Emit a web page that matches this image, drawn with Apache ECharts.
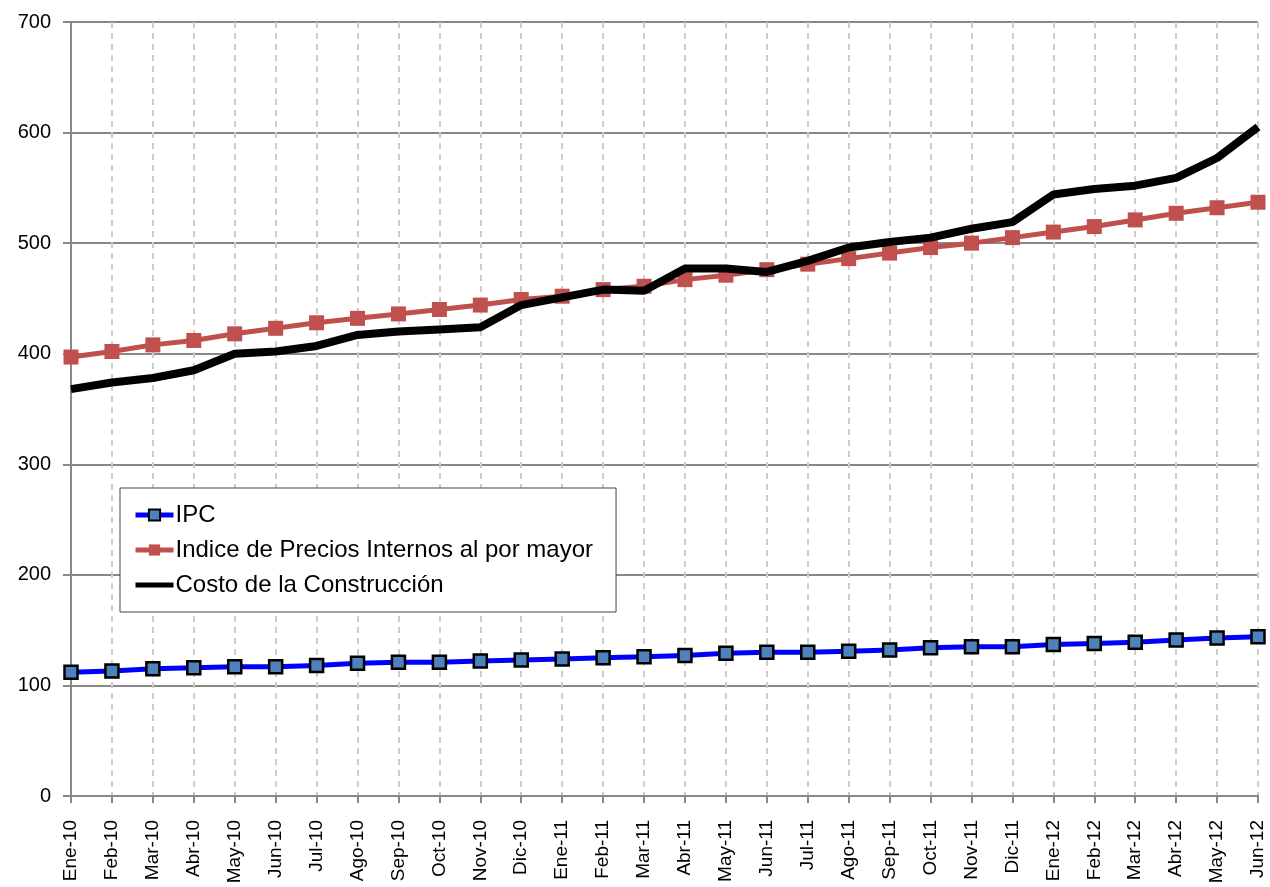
<!DOCTYPE html>
<html>
<head>
<meta charset="utf-8">
<script src="https://cdn.jsdelivr.net/npm/echarts@6/dist/echarts.min.js"></script>
<style>
  html, body { margin: 0; padding: 0; background: #fff; }
  #chart { width: 1270px; height: 887px; }
</style>
</head>
<body>
<div id="chart"></div>
<script>
// meses
var months = ['Ene-10','Feb-10','Mar-10','Abr-10','May-10','Jun-10','Jul-10','Ago-10','Sep-10','Oct-10','Nov-10','Dic-10',
              'Ene-11','Feb-11','Mar-11','Abr-11','May-11','Jun-11','Jul-11','Ago-11','Sep-11','Oct-11','Nov-11','Dic-11',
              'Ene-12','Feb-12','Mar-12','Abr-12','May-12','Jun-12'];

var ipc = [112,113,115,116,117,117,118,120,121,121,122,123,124,125,126,127,129,130,130,131,132,134,135,135,137,138,139,141,143,144];

var precios = [397,402,408,412,418,423,428,432,436,440,444,449,452,458,461,467,471,476,481,486,491,496,500,505,510,515,521,527,532,537];

var costo = [368,374,378,385,400,402,407,417,420,422,424,444,451,458,457,477,477,474,484,496,501,505,513,519,544,549,552,559,577,605];

var font = 'Liberation Sans, Arial, sans-serif';

var myChart = echarts.init(document.getElementById('chart'));

myChart.setOption({
    animation: false,
    grid: { left: 71, right: 12, top: 22, bottom: 91 },
    legend: {
        orient: 'vertical',
        left: 120,
        top: 488,
        padding: [15, 23, 15, 13],
        itemGap: 11,
        itemWidth: 38,
        itemHeight: 14,
        backgroundColor: '#fff',
        borderColor: '#444',
        borderWidth: 1,
        textStyle: { fontFamily: font, fontSize: 24, color: '#000', padding: [0, 0, 0, -3] },
        data: [
            { name: 'IPC', lineStyle: { width: 5 } },
            { name: 'Indice de Precios Internos al por mayor', lineStyle: { width: 5 } },
            { name: 'Costo de la Construcción', lineStyle: { width: 5 }, itemStyle: { opacity: 0 } }
        ]
    },
    xAxis: {
        type: 'category',
        data: months,
        boundaryGap: false,
        axisLine: { lineStyle: { color: '#888', width: 2 } },
        axisTick: { show: true, length: 7, lineStyle: { color: '#888', width: 2 } },
        axisLabel: { rotate: 90, fontFamily: font, fontSize: 19, color: '#000', margin: 24, interval: 0 },
        splitLine: { show: true, lineStyle: { color: '#ccc', type: [6, 5], width: 2 } }
    },
    yAxis: {
        type: 'value',
        min: 0,
        max: 700,
        interval: 100,
        axisLine: { show: true, lineStyle: { color: '#888', width: 2 } },
        axisTick: { show: true, length: 8, lineStyle: { color: '#888', width: 2 } },
        axisLabel: { fontFamily: font, fontSize: 20, color: '#000', margin: 20 },
        splitLine: { lineStyle: { color: '#888', width: 2 } }
    },
    series: [
        {
            name: 'IPC',
            type: 'line',
            data: ipc,
            symbol: 'rect',
            symbolSize: 13,
            lineStyle: { color: '#0000ff', width: 5 },
            itemStyle: { color: '#4f81bd', borderColor: '#000', borderWidth: 2.5 },
            z: 3
        },
        {
            name: 'Indice de Precios Internos al por mayor',
            type: 'line',
            data: precios,
            symbol: 'rect',
            symbolSize: 15,
            lineStyle: { color: '#c0504d', width: 5 },
            itemStyle: { color: '#c0504d', borderWidth: 0 },
            z: 2
        },
        {
            name: 'Costo de la Construcción',
            type: 'line',
            data: costo,
            symbol: 'none',
            lineStyle: { color: '#000', width: 8 },
            itemStyle: { color: '#000' },
            z: 4
        }
    ]
});
</script>
</body>
</html>
